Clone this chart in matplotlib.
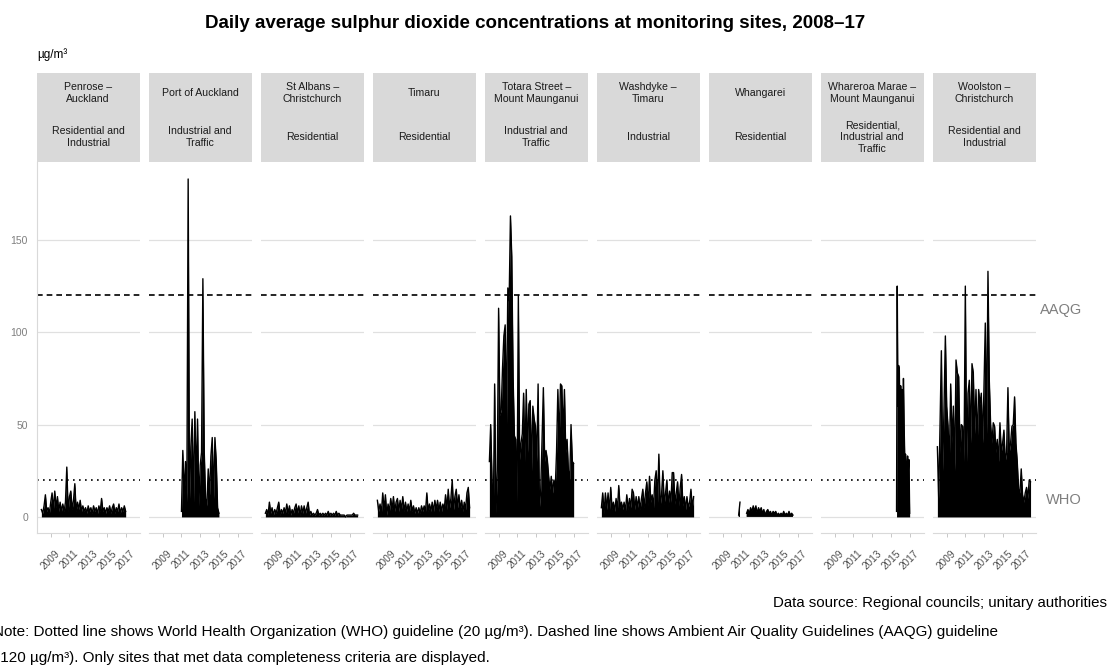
import numpy as np
import matplotlib
matplotlib.use('Agg')
import matplotlib.pyplot as plt

plt.rcParams['font.family'] = ['Liberation Sans', 'DejaVu Sans']

sites = ['Penrose –\nAuckland', 'Port of Auckland', 'St Albans –\nChristchurch', 'Timaru',
         'Totara Street –\nMount Maunganui', 'Washdyke –\nTimaru', 'Whangarei',
         'Whareroa Marae –\nMount Maunganui', 'Woolston –\nChristchurch']
site_types = ['Residential and\nIndustrial', 'Industrial and\nTraffic', 'Residential', 'Residential',
              'Industrial and\nTraffic', 'Industrial', 'Residential',
              'Residential,\nIndustrial and\nTraffic', 'Residential and\nIndustrial']

# first and last reading (decimal year) for each site
site_start = [2008.0, 2011.0, 2008.0, 2008.0, 2008.0, 2008.0, 2010.7, 2015.6, 2008.0]
site_end = [2017.0, 2015.0, 2017.85, 2017.85, 2017.0, 2017.85, 2016.5, 2017.0, 2017.95]

# daily SO2 (ug/m3), thinned to regular steps between start and end
penrose = [4, 2, 6, 12, 3, 5, 2, 8, 13, 4, 14, 5, 11, 3, 8, 3, 7, 3, 8, 27, 3, 11, 14, 4, 9, 18,
           3, 8, 4, 9, 3, 6, 3, 5, 2, 6, 3, 5, 2, 6, 3, 5, 2, 6, 3, 10, 3, 5, 2, 5, 3, 6, 2, 5,
           7, 2, 5, 3, 7, 2, 5, 3, 6, 3]
port_auckland = [3, 36, 12, 30, 8, 183, 10, 38, 53, 8, 57, 20, 53, 6, 28, 35, 129, 36, 10, 6,
                 26, 12, 33, 43, 10, 43, 30, 5, 2]
st_albans = [2, 4, 1, 8, 2, 5, 1, 4, 2, 5, 8, 1, 4, 2, 5, 2, 7, 2, 6, 1, 4, 2, 5, 7, 2, 6, 1,
             6, 2, 6, 2, 5, 8, 1, 3, 1, 2, 1, 2, 4, 1, 2, 1, 2, 1, 2, 1, 3, 1, 2, 1, 2, 1, 3,
             1, 2, 1, 1, 1, 1, 0, 1, 1, 1, 1, 1, 2, 1, 1, 1]
timaru = [9, 3, 7, 2, 13, 4, 12, 1, 7, 3, 10, 4, 11, 3, 8, 10, 3, 9, 4, 11, 3, 8, 3, 7, 3, 9,
          3, 6, 2, 5, 2, 5, 2, 6, 3, 6, 3, 13, 3, 7, 3, 8, 3, 9, 4, 9, 3, 8, 3, 7, 4, 12, 4,
          15, 5, 10, 20, 4, 11, 15, 5, 12, 4, 9, 3, 8, 4, 13, 16, 5]
totara = [30, 50, 20, 2, 72, 2, 25, 113, 55, 58, 81, 98, 104, 50, 124, 117, 163, 141, 76, 44,
          42, 8, 120, 31, 40, 45, 67, 30, 69, 35, 61, 63, 25, 60, 53, 49, 30, 72, 5, 15, 42,
          70, 30, 36, 31, 22, 15, 22, 13, 20, 15, 35, 69, 40, 72, 71, 45, 69, 35, 42, 25, 20,
          50, 30, 29]
washdyke = [5, 13, 2, 13, 4, 13, 3, 16, 4, 8, 3, 10, 4, 17, 5, 8, 4, 8, 3, 12, 4, 10, 5, 15,
            13, 4, 11, 5, 11, 4, 10, 15, 5, 13, 19, 6, 22, 8, 12, 5, 20, 25, 8, 34, 6, 12, 25,
            7, 13, 20, 6, 14, 8, 24, 24, 7, 13, 19, 6, 16, 23, 6, 11, 4, 11, 5, 8, 15, 5, 11]
whangarei = [1, 8, np.nan, np.nan, np.nan, np.nan, 2, 4, 2, 5, 3, 6, 3, 6, 2, 5, 3, 5, 2, 4,
             1, 3, 4, 2, 3, 1, 3, 2, 3, 1, 2, 1, 2, 1, 3, 1, 2, 1, 3, 1, 2, 1]
whareroa = [3, 125, 60, 82, 80, 50, 71, 55, 69, 45, 75, 49, 30, 34, 29, 20, 33, 25, 31, 2]
woolston = [38, 10, 50, 90, 25, 60, 98, 60, 49, 30, 72, 40, 60, 25, 85, 78, 76, 35, 50, 49, 30,
            125, 30, 67, 74, 40, 83, 78, 45, 69, 40, 69, 61, 67, 40, 70, 105, 45, 133, 74, 50,
            40, 51, 49, 35, 42, 30, 51, 35, 40, 47, 30, 35, 70, 35, 40, 49, 50, 65, 40, 30, 15,
            13, 26, 12, 8, 13, 16, 10, 20, 19]
series = [penrose, port_auckland, st_albans, timaru, totara, washdyke, whangarei, whareroa, woolston]

who_guideline = 20
aaqg_guideline = 120
year_ticks = [2009, 2011, 2013, 2015, 2017]
y_ticks = [0, 50, 100, 150]

W, H = 1112, 666
fig = plt.figure(figsize=(W / 100, H / 100), dpi=100)

grey_txt = '#7f7f7f'
for i in range(len(sites)):
    x0 = 36.7 + 112 * i
    ax = fig.add_axes([x0 / W, (H - 533) / H, 103 / W, (533 - 162) / H])
    vals = np.array(series[i], dtype=float)
    t = np.linspace(site_start[i], site_end[i], len(vals))
    ax.fill_between(t, 0, vals, color='black', lw=0)
    ax.plot(t, vals, color='black', lw=1.0)
    ax.axhline(aaqg_guideline, color='black', lw=1.2, ls=(0, (3.4, 2.4)))
    ax.axhline(who_guideline, color='black', lw=1.2, ls=(0, (1, 2.6)))

    ax.set_xlim(2007.5, 2018.5)
    ax.set_ylim(-8.7, 192.2)
    ax.set_yticks(y_ticks)
    ax.grid(axis='y', color='#e0e0e0', lw=0.9)
    ax.set_axisbelow(True)
    ax.tick_params(axis='x', length=3, width=0.7, color='#c8c8c8', pad=8,
                   labelsize=7.2, labelcolor='#4d4d4d')
    ax.tick_params(axis='y', length=0, pad=6.3, labelsize=7.5, labelcolor=grey_txt)
    ax.set_xticks(year_ticks)
    ax.set_xticklabels([str(y) for y in year_ticks])
    plt.setp(ax.get_xticklabels(), rotation=45, ha='center', va='top')
    for s in ['top', 'right']:
        ax.spines[s].set_visible(False)
    ax.spines['bottom'].set_color('#d9d9d9')
    if i == 0:
        ax.spines['left'].set_color('#d9d9d9')
    else:
        ax.spines['left'].set_visible(False)
        ax.set_yticklabels([])

    # strip header
    strip = fig.add_axes([x0 / W, (H - 162) / H, 103 / W, 89 / H])
    strip.set_facecolor('#d9d9d9')
    strip.set_xticks([])
    strip.set_yticks([])
    for s in strip.spines.values():
        s.set_visible(False)
    strip.text(0.5, 1 - (93 - 73) / 89, sites[i], ha='center', va='center', fontsize=7.6,
               color='#1a1a1a', transform=strip.transAxes)
    strip.text(0.5, 1 - (137 - 73) / 89, site_types[i], ha='center', va='center', fontsize=7.6,
               color='#1a1a1a', transform=strip.transAxes)

fig.text(535 / W, 1 - 24 / H, 'Daily average sulphur dioxide concentrations at monitoring sites, 2008–17',
         ha='center', va='center', fontsize=13.5, fontweight='bold')
fig.text(37 / W, 1 - 58 / H, 'µg/m³', ha='left', va='baseline', fontsize=8.5)

fig.text(1082 / W, 1 - 310 / H, 'AAQG', ha='right', va='center', fontsize=10.5, color=grey_txt)
fig.text(1082 / W, 1 - 500.5 / H, 'WHO', ha='right', va='center', fontsize=10.5, color=grey_txt)

fig.text(1107 / W, 1 - 603 / H, 'Data source: Regional councils; unitary authorities',
         ha='right', va='center', fontsize=10.8)
fig.text(-7 / W, 1 - 632 / H,
         'Note: Dotted line shows World Health Organization (WHO) guideline (20 µg/m³). '
         'Dashed line shows Ambient Air Quality Guidelines (AAQG) guideline',
         ha='left', va='center', fontsize=11)
fig.text(-5 / W, 1 - 658 / H,
         '(120 µg/m³). Only sites that met data completeness criteria are displayed.',
         ha='left', va='center', fontsize=11)

fig.savefig('out.png', dpi=100)
